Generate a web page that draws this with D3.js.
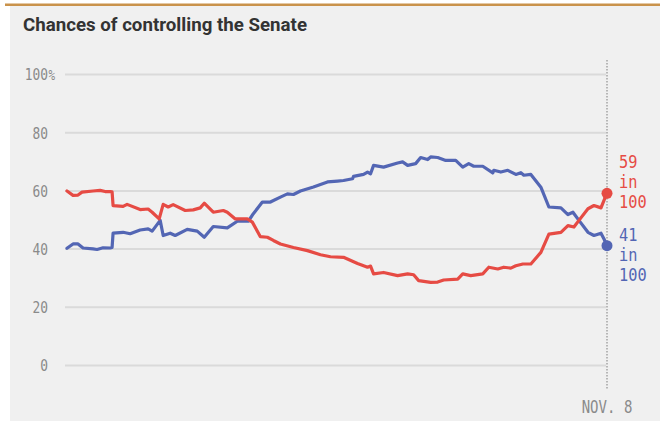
<!DOCTYPE html>
<html>
<head>
<meta charset="utf-8">
<script src="https://cdn.jsdelivr.net/npm/d3@7"></script>
<style>
  html, body { margin: 0; padding: 0; background: #ffffff; }
  svg { display: block; }
</style>
</head>
<body>
<svg id="chart" width="660" height="421"></svg>
<script>
// ---- data ----
const title = "Chances of controlling the Senate";
const yTicks = [0, 20, 40, 60, 80, 100];
const xTickLabel = "NOV. 8";
const lastDay = 108;

const redDays = [0.2, 1.4, 2.4, 3.2, 5.4, 6.8, 7.8, 8.8, 9.2, 9.4, 11.4, 12.2, 14.8, 16.4, 17.2, 18.6, 19.4, 20.4, 21.4, 23.8, 25.4, 26.8, 27.6, 29.4, 31.4, 32.2, 33.8, 36.2, 37.2, 38.8, 40.2, 41.4, 42.8, 45.4, 48.2, 50.8, 52.8, 55.4, 58.2, 60.2, 60.8, 61.4, 63.4, 66.2, 68.2, 69.4, 70.4, 72.8, 74.2, 75.4, 78.2, 79.2, 80.8, 83.2, 84.4, 86.2, 87.4, 88.8, 89.8, 91.2, 92.8, 94.8, 96.4, 98.8, 100.2, 101.4, 102.4, 104.2, 105.4, 106.8, 107.4, 108];
const redValues = [59.8, 58.3, 58.4, 59.4, 59.8, 60.0, 59.6, 59.6, 59.5, 54.8, 54.5, 55.2, 53.4, 53.6, 52.5, 50.2, 55.2, 54.3, 55.1, 53.1, 53.3, 54.0, 55.6, 52.5, 53.1, 52.5, 50.2, 50.2, 49.1, 44.1, 43.9, 42.8, 41.6, 40.4, 39.3, 37.9, 37.2, 37.0, 34.9, 33.6, 34.0, 31.3, 31.8, 30.7, 31.3, 31.0, 29.0, 28.4, 28.5, 29.2, 29.5, 31.3, 30.7, 31.3, 33.6, 33.0, 33.6, 33.3, 34.1, 34.7, 34.7, 38.7, 45.0, 45.6, 47.9, 47.4, 49.7, 53.7, 54.8, 54.0, 56.6, 59];

const blueDays = [0.2, 1.4, 2.4, 3.4, 5.4, 6.2, 7.4, 8.8, 9.2, 9.4, 11.4, 12.8, 14.8, 16.4, 17.2, 18.8, 19.4, 20.8, 21.8, 24.2, 26.2, 27.6, 29.4, 32.2, 34.2, 36.4, 37.4, 39.2, 40.8, 42.8, 44.2, 45.4, 46.8, 49.4, 52.2, 54.2, 55.4, 57.2, 57.4, 59.4, 60.2, 60.8, 61.4, 63.4, 66.2, 67.2, 68.2, 69.8, 70.8, 72.2, 72.8, 74.2, 75.8, 77.8, 79.2, 80.4, 81.4, 83.2, 85.2, 85.4, 86.8, 88.2, 89.8, 90.8, 91.4, 92.8, 94.8, 96.4, 98.8, 100.2, 101.2, 102.4, 104.2, 105.4, 106.8, 107.4, 108];
const blueValues = [40.1, 41.6, 41.6, 40.2, 39.9, 39.7, 40.3, 40.2, 40.4, 45.3, 45.6, 45.1, 46.4, 46.8, 46.0, 49.7, 44.5, 45.3, 44.5, 46.6, 46.0, 43.9, 47.6, 47.1, 49.4, 49.4, 52.0, 56.0, 56.0, 57.7, 58.8, 58.6, 59.8, 61.2, 62.9, 63.2, 63.4, 64.0, 64.8, 65.5, 66.3, 65.7, 68.6, 68.0, 69.4, 69.8, 68.6, 69.2, 71.3, 70.6, 71.5, 71.3, 70.3, 70.3, 68.0, 69.2, 68.3, 68.3, 66.0, 66.9, 66.3, 66.9, 65.5, 66.1, 65.2, 65.5, 61.1, 54.3, 54.0, 51.7, 52.5, 49.7, 45.6, 44.5, 45.3, 43.3, 41];

const redLabel = ["59", "in", "100"];
const blueLabel = ["41", "in", "100"];

// ---- styles ----
const RED = "#e64b44";
const BLUE = "#5366b4";
const MONO = "'DejaVu Sans Mono', monospace";
const SX = 0.78;

const svg = d3.select("#chart");

// panel
svg.append("rect").attr("x", 10).attr("y", 5).attr("width", 650).attr("height", 416).attr("fill", "#f0f0f0");
svg.append("rect").attr("x", 5).attr("y", 3.5).attr("width", 655).attr("height", 2.5).attr("fill", "#c9924b");

// title
svg.append("text")
  .attr("x", 23).attr("y", 31)
  .attr("font-family", "Roboto, 'Open Sans', sans-serif")
  .attr("font-weight", 700)
  .attr("font-size", 19)
  .attr("fill", "#333")
  .attr("textLength", 284)
  .attr("lengthAdjust", "spacingAndGlyphs")
  .text(title);

// scales
const x = d3.scaleLinear().domain([0, lastDay]).range([66, 607]);
const y = d3.scaleLinear().domain([0, 100]).range([365, 74]);

// y axis with gridlines
const yAxis = d3.axisLeft(y)
  .tickValues(yTicks)
  .tickSize(-(606 - 65))
  .tickPadding(17)
  .tickFormat(d => String(d));

const gy = svg.append("g").attr("transform", "translate(65,0)").call(yAxis);
gy.select(".domain").remove();
gy.selectAll(".tick line").attr("stroke", "#dadada").attr("stroke-width", 2);
gy.selectAll(".tick text")
  .attr("font-family", MONO)
  .attr("font-size", 16.5)
  .attr("fill", "#8a8a8a")
  .attr("transform", `scale(${SX},1)`)
  .attr("x", -17 / SX)
  .attr("dy", "0.36em");
gy.selectAll(".tick").filter(d => d === 100)
  .append("text")
  .attr("font-family", MONO)
  .attr("font-size", 14)
  .attr("fill", "#8a8a8a")
  .attr("text-anchor", "start")
  .attr("transform", `scale(${SX},1)`)
  .attr("x", -16.5 / SX)
  .attr("dy", "0.36em")
  .text("%");

// vertical election-day line
svg.append("line")
  .attr("x1", x(lastDay)).attr("x2", x(lastDay))
  .attr("y1", 60).attr("y2", 390)
  .attr("stroke", "#a8a8a8").attr("stroke-width", 1.6)
  .attr("stroke-dasharray", "1.5,1.5");

// x axis (single tick)
const xAxis = d3.axisBottom(x).tickValues([lastDay]).tickSize(0).tickFormat(() => xTickLabel);
const gx = svg.append("g").attr("transform", "translate(0,399)").call(xAxis);
gx.select(".domain").remove();
gx.selectAll(".tick text")
  .attr("font-family", MONO)
  .attr("font-size", 18)
  .attr("fill", "#8a8a8a")
  .attr("transform", `scale(${SX},1)`)
  .attr("y", 0)
  .attr("dy", "0.76em");
gx.selectAll(".tick").attr("transform", null);
gx.selectAll(".tick text").attr("x", x(lastDay) / SX).attr("text-anchor", "middle");

// lines
const line = d3.line().x(d => x(d[0])).y(d => y(d[1])).curve(d3.curveLinear);
const redData = d3.zip(redDays, redValues);
const blueData = d3.zip(blueDays, blueValues);

svg.append("path").datum(blueData)
  .attr("d", line).attr("fill", "none").attr("stroke", BLUE)
  .attr("stroke-width", 3.2).attr("stroke-linejoin", "round").attr("stroke-linecap", "round");
svg.append("path").datum(redData)
  .attr("d", line).attr("fill", "none").attr("stroke", RED)
  .attr("stroke-width", 3.2).attr("stroke-linejoin", "round").attr("stroke-linecap", "round");

// end dots and labels
const ends = [
  { d: redData[redData.length - 1], c: RED, label: redLabel, baseY: 168 },
  { d: blueData[blueData.length - 1], c: BLUE, label: blueLabel, baseY: 241 }
];
ends.forEach(e => {
  svg.append("circle").attr("cx", x(e.d[0])).attr("cy", y(e.d[1])).attr("r", 5.5).attr("fill", e.c);
  e.label.forEach((t, i) => {
    svg.append("text")
      .attr("transform", `translate(619,${e.baseY + i * 20}) scale(0.9,1)`)
      .attr("font-family", MONO)
      .attr("font-size", 17)
      .attr("fill", e.c)
      .text(t);
  });
});
</script>
</body>
</html>
